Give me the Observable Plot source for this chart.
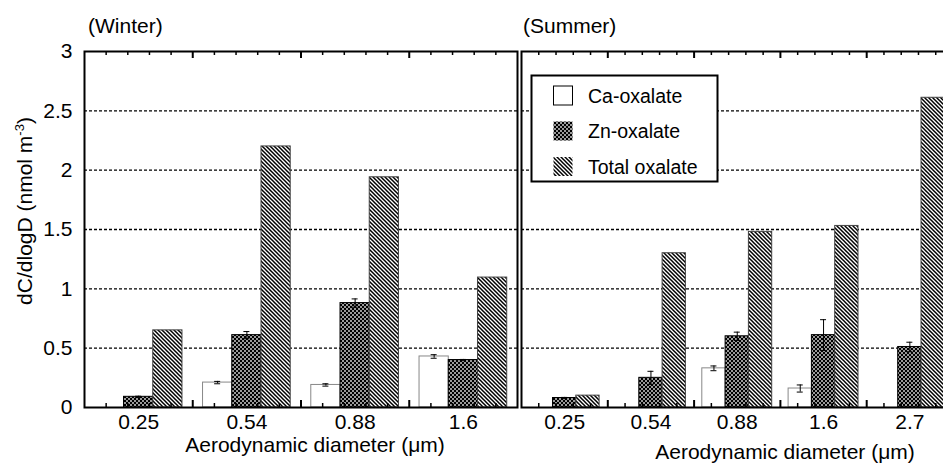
<!DOCTYPE html>
<html><head><meta charset="utf-8">
<script src="https://cdn.jsdelivr.net/npm/d3@7"></script>
<script src="https://cdn.jsdelivr.net/npm/@observablehq/plot@0.6"></script>
<style>
html,body{margin:0;padding:0;background:#fff;overflow:hidden}
#wrap{position:relative;width:943px;height:466px;overflow:hidden;background:#fff;font-family:"Liberation Sans",Arial,sans-serif}
</style></head><body>
<svg width="0" height="0" style="position:absolute">
  <defs>
    <pattern id="pZn" patternUnits="userSpaceOnUse" width="4" height="4">
      <rect width="4" height="4" fill="#9a9a9a"/>
      <rect width="2" height="2" fill="#000"/>
      <rect x="2" y="2" width="2" height="2" fill="#000"/>
    </pattern>
    <pattern id="pTot" patternUnits="userSpaceOnUse" width="4" height="4">
      <rect width="4" height="4" fill="#fff"/>
      <path d="M-1,-1L5,5M-1,3L1,5M3,-1L5,1" stroke="#000" stroke-width="1.5"/>
    </pattern>
  </defs>
</svg>
<div id="wrap"></div>
<script>
// ---- data ----
const winterCats = ["0.25", "0.54", "0.88", "1.6"];
const winterCa = [null, 0.21, 0.19, 0.43];
const winterCaErr = [null, 0.01, 0.01, 0.015];
const winterZn = [0.09, 0.61, 0.88, 0.40];
const winterZnErr = [0.005, 0.03, 0.035, 0.005];
const winterTotal = [0.65, 2.20, 1.94, 1.095];

const summerCats = ["0.25", "0.54", "0.88", "1.6", "2.7"];
const summerCa = [null, null, 0.33, 0.16, null];
const summerCaErr = [null, null, 0.02, 0.03, null];
const summerZn = [0.08, 0.25, 0.60, 0.61, 0.51];
const summerZnErr = [0.005, 0.055, 0.035, 0.13, 0.04];
const summerTotal = [0.10, 1.30, 1.48, 1.53, 2.61];

const seriesNames = ["Ca-oxalate", "Zn-oxalate", "Total oxalate"];
const yTicks = [0, 0.5, 1, 1.5, 2, 2.5, 3];
const gridValues = [0.5, 1, 1.5, 2, 2.5];
const panelTitles = ["(Winter)", "(Summer)"];
const xTitle = "Aerodynamic diameter (\u03bcm)";

// ---- layout / style ----
const FONT = '"Liberation Sans", Arial, sans-serif';
const H = 466, TOP = 51, BOTTOM = 407;
const pxPerUnit = (BOTTOM - TOP) / 3;
const seriesStyle = [
  {fill: "white", stroke: "#888"},
  {fill: "url(#pZn)", stroke: "#000"},
  {fill: "url(#pTot)", stroke: "#444"}
];

function makeRows(cats, ca, caErr, zn, znErr, tot) {
  const rows = [];
  cats.forEach((c, i) => {
    rows.push({cat: c, k: 0, v: ca[i], e: caErr[i]});
    rows.push({cat: c, k: 1, v: zn[i], e: znErr[i]});
    rows.push({cat: c, k: 2, v: tot[i], e: null});
  });
  return rows;
}

function panel({cats, rows, width, marginLeft, marginRight, showY}) {
  const bw = (width - marginLeft - marginRight) / cats.length;
  const barW = bw * 0.27;
  const pad = (bw - 3 * barW) / 2;
  const center = k => pad + (k + 0.5) * barW;
  const marks = [];
  marks.push(Plot.ruleY(gridValues, {stroke: "#000", strokeWidth: 1.3, strokeDasharray: "3,2"}));
  [0, 1, 2].forEach(k => {
    marks.push(Plot.barY(rows.filter(d => d.k === k && d.v != null), {
      x: "cat", y: "v",
      fill: seriesStyle[k].fill, stroke: seriesStyle[k].stroke, strokeWidth: 1,
      insetLeft: pad + k * barW, insetRight: bw - pad - (k + 1) * barW
    }));
  });
  [0, 1].forEach(k => {
    const err = rows.filter(d => d.k === k && d.v != null && d.e > 0);
    marks.push(Plot.ruleX(err, {x: "cat", y1: d => d.v - d.e, y2: d => d.v + d.e,
      dx: center(k) - bw / 2, stroke: "#000", strokeWidth: 1}));
    for (const f of [d => d.v + d.e, d => d.v - d.e]) {
      marks.push(Plot.tickY(err, {x: "cat", y: f,
        insetLeft: center(k) - 3, insetRight: bw - center(k) - 3, stroke: "#000", strokeWidth: 1}));
    }
  });
  const major = 7 / pxPerUnit, minor = 4 / pxPerUnit;
  for (let j = 0; j < 5; j++) {
    const data = j === 0 ? cats.slice(1) : cats;
    const len = j === 0 ? major : minor;
    const sw = j === 0 ? 2 : 1.5;
    marks.push(Plot.ruleX(data, {x: d => d, dx: -bw / 2 + j * bw / 5, y1: 0, y2: len, stroke: "#000", strokeWidth: sw}));
    marks.push(Plot.ruleX(data, {x: d => d, dx: -bw / 2 + j * bw / 5, y1: 3, y2: 3 - len, stroke: "#000", strokeWidth: sw}));
  }
  marks.push(Plot.axisX({tickSize: 0, tickPadding: 7, fontSize: 21, label: null}));
  if (showY) marks.push(Plot.axisY({ticks: yTicks, tickSize: 0, tickPadding: 12, fontSize: 21, label: null, tickFormat: d => String(d)}));
  marks.push(Plot.frame({stroke: "#000", strokeWidth: 2}));
  return Plot.plot({
    width, height: H, marginLeft, marginRight, marginTop: TOP, marginBottom: H - BOTTOM,
    x: {domain: cats, padding: 0, round: false},
    y: {domain: [0, 3], axis: showY ? undefined : null},
    style: {fontFamily: FONT, fontSize: "21px", background: "transparent", color: "#000", overflow: "visible"},
    marks
  });
}

const wrap = d3.select("#wrap");

const left = panel({cats: winterCats, rows: makeRows(winterCats, winterCa, winterCaErr, winterZn, winterZnErr, winterTotal),
  width: 519, marginLeft: 84, marginRight: 2, showY: true});
const right = panel({cats: summerCats, rows: makeRows(summerCats, summerCa, summerCaErr, summerZn, summerZnErr, summerTotal),
  width: 452, marginLeft: 10, marginRight: 10.5, showY: false});

d3.select(left).style("position", "absolute").style("left", "0px").style("top", "0px");
d3.select(right).style("position", "absolute").style("left", "511px").style("top", "0px");
wrap.node().appendChild(left);
wrap.node().appendChild(right);

// titles and axis labels
const ls = d3.select(left), rs = d3.select(right);
const addText = (sel, x, y, anchor, txt) => sel.append("text").attr("x", x).attr("y", y)
  .attr("text-anchor", anchor).attr("font-size", 21).attr("font-family", FONT).attr("fill", "#000").text(txt);
addText(ls, 88, 33, "start", panelTitles[0]);
addText(rs, 12, 33, "start", panelTitles[1]);
addText(ls, 315, 452, "middle", xTitle);
addText(rs, 274, 459, "middle", xTitle);
const yl = ls.append("text").attr("transform", "translate(32,211) rotate(-90)").attr("text-anchor", "middle")
  .attr("font-size", 21).attr("font-family", FONT);
yl.append("tspan").text("dC/dlogD (nmol m");
yl.append("tspan").attr("font-size", 13).attr("dy", -8).text("-3");
yl.append("tspan").attr("font-size", 21).attr("dy", 8).text(")");

// legend
const lg = wrap.append("svg").attr("width", 943).attr("height", 466)
  .style("position", "absolute").style("left", "0px").style("top", "0px");
lg.append("rect").attr("x", 531.5).attr("y", 75.5).attr("width", 186).attr("height", 106)
  .attr("fill", "#fff").attr("stroke", "#000").attr("stroke-width", 2);
const rowsY = [95.5, 131, 166.5];
seriesNames.forEach((name, k) => {
  lg.append("rect").attr("x", 553.5).attr("y", rowsY[k] - 9.5).attr("width", 19).attr("height", 19)
    .attr("fill", seriesStyle[k].fill).attr("stroke", k === 0 ? "#000" : "none").attr("stroke-width", 1);
  lg.append("text").attr("x", 588).attr("y", rowsY[k] + 7).attr("font-size", 19.5).attr("font-family", FONT)
    .attr("text-anchor", "start").text(name);
});
</script></body></html>
